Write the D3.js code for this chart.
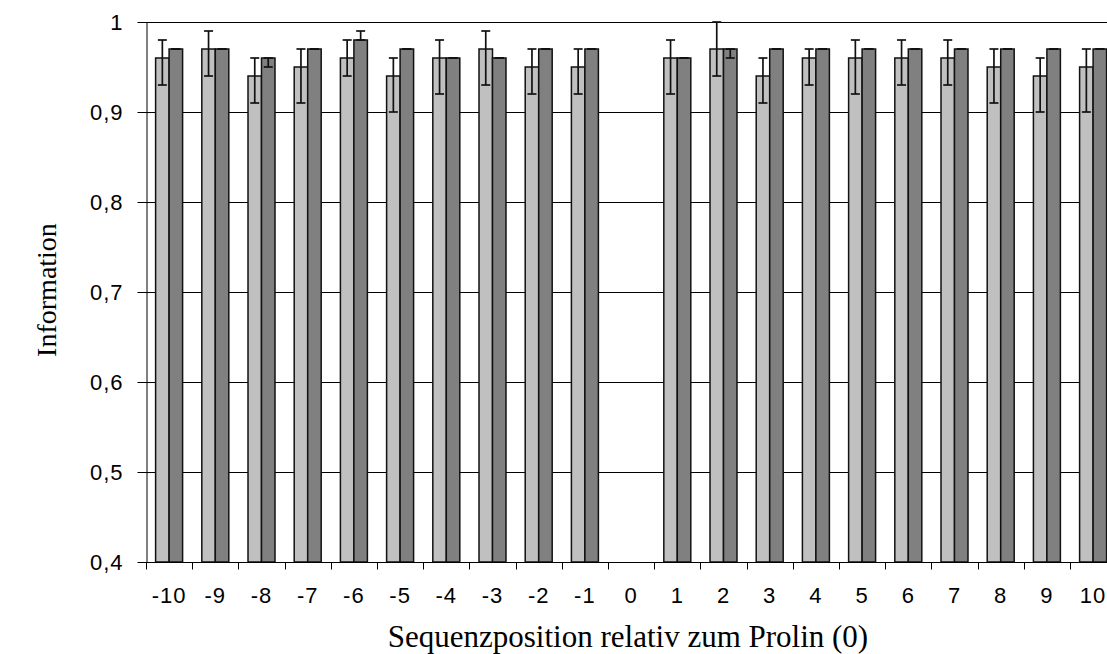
<!DOCTYPE html>
<html>
<head>
<meta charset="utf-8">
<script src="https://cdn.jsdelivr.net/npm/d3@7"></script>
<style>
  html, body { margin: 0; padding: 0; background: #fff; }
  svg { display: block; }
</style>
</head>
<body>
<svg id="chart" width="1107" height="654"></svg>
<script>
// Sequence positions relative to proline (0)
const positions = ["-10","-9","-8","-7","-6","-5","-4","-3","-2","-1","0","1","2","3","4","5","6","7","8","9","10"];

// Series A (light bars): value, lower and upper error limit
const lightValues = [0.96,0.97,0.94,0.95,0.96,0.94,0.96,0.97,0.95,0.95,null,0.96,0.97,0.94,0.96,0.96,0.96,0.96,0.95,0.94,0.95];
const lightLow    = [0.93,0.94,0.91,0.91,0.94,0.90,0.92,0.93,0.92,0.92,null,0.92,0.94,0.91,0.93,0.92,0.93,0.93,0.91,0.90,0.90];
const lightHigh   = [0.98,0.99,0.96,0.97,0.98,0.96,0.98,0.99,0.97,0.97,null,0.98,1.00,0.96,0.97,0.98,0.98,0.98,0.97,0.96,0.97];

// Series B (dark bars): value, lower and upper error limit
const darkValues = [0.97,0.97,0.96,0.97,0.98,0.97,0.96,0.96,0.97,0.97,null,0.96,0.97,0.97,0.97,0.97,0.97,0.97,0.97,0.97,0.97];
const darkLow    = [0.97,0.97,0.95,0.97,0.98,0.97,0.96,0.96,0.97,0.97,null,0.96,0.96,0.97,0.97,0.97,0.97,0.97,0.97,0.97,0.97];
const darkHigh   = [0.97,0.97,0.96,0.97,0.99,0.97,0.96,0.96,0.97,0.97,null,0.96,0.97,0.97,0.97,0.97,0.97,0.97,0.97,0.97,0.97];

const yTicks = [0.4,0.5,0.6,0.7,0.8,0.9,1];

const svg = d3.select("#chart");
const plotLeft = 146, plotRight = 1116.2, plotTop = 22, plotBottom = 562;
const sansFont = "'Liberation Sans', Arial, sans-serif";
const serifFont = "'Liberation Serif', 'Times New Roman', serif";

const x = d3.scaleBand().domain(positions).range([plotLeft, plotRight]).paddingInner(0).paddingOuter(0);
const sub = d3.scaleBand().domain(["a","b"]).range([0, x.bandwidth()]).paddingInner(0).paddingOuter(0.712);
const y = d3.scaleLinear().domain([0.4, 1]).range([plotBottom, plotTop]);

const fmt = v => String(v).replace(".", ",");

// horizontal gridlines
svg.append("g")
  .selectAll("line")
  .data(yTicks)
  .join("line")
  .attr("x1", plotLeft).attr("x2", 1107)
  .attr("y1", d => Math.round(y(d)) + 0.5).attr("y2", d => Math.round(y(d)) + 0.5)
  .attr("stroke", "#000").attr("stroke-width", 1);

const series = [
  { key: "a", vals: lightValues, lo: lightLow, hi: lightHigh, fill: "#C0C0C0" },
  { key: "b", vals: darkValues, lo: darkLow, hi: darkHigh, fill: "#808080" }
];

series.forEach(s => {
  const data = positions.map((p, i) => ({ p, v: s.vals[i], lo: s.lo[i], hi: s.hi[i] })).filter(d => d.v != null);
  const g = svg.append("g");
  g.selectAll("rect")
    .data(data)
    .join("rect")
    .attr("x", d => x(d.p) + sub(s.key))
    .attr("y", d => y(d.v))
    .attr("width", sub.bandwidth())
    .attr("height", d => y(0.4) - y(d.v))
    .attr("fill", s.fill)
    .attr("stroke", "#111")
    .attr("stroke-width", 1.5);

  // error bars
  const eb = g.append("g").attr("stroke", "#111").attr("stroke-width", 1.7);
  data.forEach(d => {
    const cx = x(d.p) + sub(s.key) + sub.bandwidth() / 2;
    eb.append("line").attr("x1", cx).attr("x2", cx).attr("y1", y(d.hi)).attr("y2", y(d.lo));
    [d.hi, d.lo].forEach(v => {
      eb.append("line").attr("x1", cx - 4.5).attr("x2", cx + 4.5).attr("y1", y(v)).attr("y2", y(v));
    });
  });
});

// y axis
const yAxis = d3.axisLeft(y).tickValues(yTicks).tickSize(9).tickSizeOuter(0).tickFormat(fmt).tickPadding(14);
const ya = svg.append("g").attr("transform", `translate(${plotLeft + 0.5},0)`).call(yAxis);
ya.select(".domain").attr("stroke", "#000");
ya.selectAll(".tick line").attr("stroke", "#000");
ya.selectAll("text")
  .attr("font-family", sansFont).attr("font-size", 22)
  .attr("letter-spacing", 1).attr("fill", "#000");

// x axis: ticks sit between categories
const xa = svg.append("g").attr("transform", `translate(0,${plotBottom + 0.5})`);
xa.append("line").attr("x1", plotLeft).attr("x2", 1107).attr("stroke", "#000");
xa.selectAll("line.tk")
  .data(positions)
  .join("line").attr("class", "tk")
  .attr("x1", d => Math.round(x(d)) + 0.5).attr("x2", d => Math.round(x(d)) + 0.5)
  .attr("y1", 0).attr("y2", 7).attr("stroke", "#000");
xa.selectAll("text")
  .data(positions)
  .join("text")
  .attr("x", d => x(d) + x.bandwidth() / 2)
  .attr("y", 40)
  .attr("text-anchor", "middle")
  .attr("font-family", sansFont)
  .attr("font-size", 22)
  .attr("letter-spacing", 1)
  .text(d => d);

// axis titles
svg.append("text")
  .attr("transform", "translate(56,290) rotate(-90)")
  .attr("text-anchor", "middle")
  .attr("font-family", serifFont)
  .attr("font-size", 28)
  .text("Information");

svg.append("text")
  .attr("x", 628).attr("y", 647)
  .attr("text-anchor", "middle")
  .attr("font-family", serifFont)
  .attr("font-size", 31)
  .text("Sequenzposition relativ zum Prolin (0)");
</script>
</body>
</html>
